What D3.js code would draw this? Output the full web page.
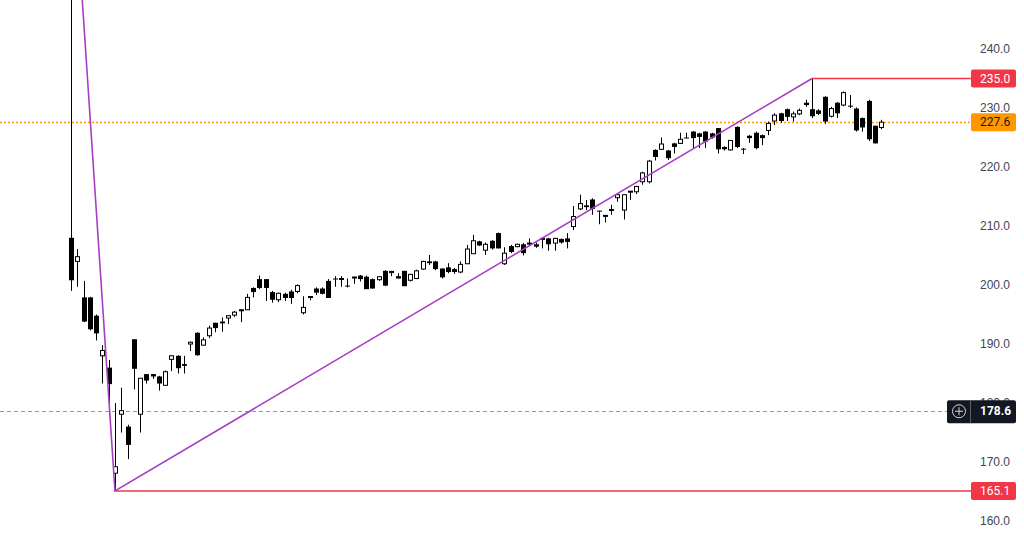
<!DOCTYPE html>
<html>
<head>
<meta charset="utf-8">
<script src="https://cdn.jsdelivr.net/npm/d3@7"></script>
<style>
  body { margin: 0; background: #ffffff; }
  svg { display: block; font-family: Roboto, "Noto Sans", sans-serif; }
</style>
</head>
<body>
<svg id="chart"></svg>
<script>
// daily candles
var opens = [208.0,204.0,197.9,197.9,194.8,188.0,186.0,168.1,178.1,176.0,
  190.8,178.1,184.9,184.9,184.5,183.0,187.4,188.0,186.6,190.0,
  191.9,189.8,191.4,193.6,193.8,194.4,194.9,195.75,195.8,199.5,
  201.0,201.0,198.8,197.5,198.5,198.9,198.9,195.3,198.0,199.4,
  199.4,200.7,201.1,201.0,199.9,201.3,201.6,201.4,201.0,200.9,
  202.4,202.1,201.5,202.4,200.8,201.1,202.7,204.0,204.0,202.8,
  203.0,202.7,202.2,203.6,205.3,207.4,205.9,207.5,208.8,203.6,
  206.6,206.5,206.9,207.0,206.9,207.85,207.9,207.1,207.8,207.9,
  209.9,212.9,213.5,214.5,212.6,211.8,212.7,214.8,212.7,215.85,
  215.8,217.5,217.5,222.9,223.0,222.8,224.0,224.0,225.0,226.0,
  225.7,226.0,225.7,226.6,223.4,222.9,226.8,223.1,225.3,225.8,
  225.4,226.2,227.8,229.1,229.8,228.5,229.0,230.9,229.8,229.6,
  231.9,228.6,230.9,230.5,230.4,229.9,228.3,231.2,227.0,226.7];
var highs = [277.0,206.1,200.7,198.0,195.0,189.8,187.3,180.0,182.6,176.3,
  190.8,184.2,184.9,184.9,184.6,185.5,188.1,188.1,188.0,190.4,
  192.0,191.1,193.1,193.6,194.5,194.9,195.6,195.9,198.5,199.6,
  201.6,201.0,199.0,198.7,198.7,199.2,200.1,198.1,198.1,199.6,
  199.6,201.0,201.5,201.5,201.1,201.4,201.7,201.6,201.1,201.5,
  202.5,202.4,202.0,202.4,201.9,202.6,204.1,205.1,204.1,202.8,
  203.7,202.9,204.0,206.8,208.5,207.5,207.2,207.6,208.9,206.4,
  206.8,207.0,207.1,207.9,207.2,207.9,208.0,208.0,207.9,208.8,
  213.4,215.3,214.4,214.7,212.6,211.85,213.6,215.4,215.3,215.9,
  216.8,219.2,221.2,223.0,225.0,222.9,224.1,225.8,225.8,226.1,
  225.8,226.1,225.8,226.6,223.5,224.6,226.9,223.2,225.4,226.0,
  225.5,227.7,229.1,229.2,229.9,229.4,229.9,231.4,235.0,229.8,
  232.0,230.2,231.0,232.8,232.2,230.1,228.4,231.4,227.0,228.0];
var lows = [199.0,199.7,193.7,192.3,190.6,183.3,179.2,165.1,175.0,170.5,
  182.3,175.0,183.3,184.1,182.1,182.9,185.4,185.0,185.0,188.8,
  188.0,189.8,191.0,192.0,192.1,193.4,194.6,193.7,195.8,197.9,
  199.3,197.3,197.0,197.1,197.3,196.8,198.6,195.0,197.4,198.3,
  198.4,197.8,199.7,199.7,199.6,200.2,200.6,199.3,199.4,200.7,
  199.8,201.5,201.1,199.8,200.6,201.0,202.6,203.4,202.5,201.1,
  202.0,201.9,202.0,203.6,205.3,206.6,205.1,206.0,206.2,203.4,
  205.4,206.4,205.0,206.6,206.3,206.2,205.8,205.8,207.0,206.2,
  209.3,212.7,212.7,211.9,210.3,210.6,211.9,214.1,211.1,214.4,
  215.4,217.0,217.2,221.1,222.9,221.2,222.3,223.9,224.9,223.2,
  223.2,223.2,224.8,222.3,222.8,222.8,223.2,222.2,224.1,223.0,
  223.7,225.4,227.1,227.5,227.8,227.7,228.8,230.2,228.3,228.8,
  227.3,228.4,228.3,230.3,230.0,226.0,226.0,224.4,224.0,226.4];
var closes = [200.8,204.8,193.8,192.5,191.8,188.9,183.2,169.2,178.7,172.9,
  185.8,184.2,183.8,184.5,183.3,185.3,188.0,185.9,186.3,190.3,
  188.1,190.7,192.7,192.7,193.5,194.8,195.4,195.8,197.9,198.8,
  199.5,199.5,197.5,198.6,197.8,197.8,199.9,196.2,198.05,198.7,
  198.5,197.8,201.0,201.1,199.8,201.35,201.0,199.3,199.4,201.4,
  199.9,202.3,201.1,199.8,201.8,202.4,204.0,203.7,202.7,201.3,
  202.2,202.2,203.5,206.1,207.5,206.7,206.9,206.2,206.2,205.4,
  205.6,206.9,205.4,207.1,206.5,207.9,206.9,207.9,207.2,207.3,
  211.6,213.8,213.2,212.9,212.55,211.8,212.8,215.3,215.3,215.9,
  216.7,219.0,221.0,221.7,223.9,221.5,223.4,224.7,224.95,224.9,
  225.1,224.3,225.0,223.0,223.0,224.5,223.4,223.05,224.9,223.2,
  224.9,227.4,228.8,227.8,228.5,229.0,229.6,230.5,228.6,229.0,
  227.7,229.9,229.1,232.6,230.3,226.2,226.7,224.7,224.0,227.6];

// zigzag drawing (candle index, price) and its level lines
var zigIdx = [0, 7, 118];
var zigPrice = [277.0, 165.1, 235.0];
var levelIdx = [7, 118];
var levelPrice = [165.1, 235.0];

var lastPrice = 227.6;
var crossPrice = 178.6;
var yTicks = [160, 170, 180, 190, 200, 210, 220, 230, 240];

var width = 1024, height = 551;
var svg = d3.select("#chart").attr("width", width).attr("height", height);

//--------------------scales---------------
var x = d3.scaleLinear().domain([0, 129]).range([71, 881.1]);
var y = d3.scaleLinear().domain([160, 240]).range([521, 49]);
var fmt = d3.format(".1f");
var plotRight = 971;

//--------------------price axis (right)---------------
var axis = svg.append("g")
    .attr("transform", "translate(980,0)")
    .call(d3.axisRight(y).tickValues(yTicks).tickSize(0).tickPadding(0).tickFormat(fmt));
axis.select(".domain").remove();
axis.selectAll("text")
    .style("font-size", "12px")
    .style("fill", "#434651");

//--------------------horizontal lines---------------
svg.append("line")
    .attr("x1", 0).attr("x2", 947)
    .attr("y1", Math.round(y(crossPrice)) + 0.5).attr("y2", Math.round(y(crossPrice)) + 0.5)
    .style("stroke", "#9598a1")
    .style("stroke-width", 1)
    .style("stroke-dasharray", "4,3");

svg.append("line")
    .attr("x1", 0).attr("x2", plotRight)
    .attr("y1", Math.round(y(lastPrice)) + 0.5).attr("y2", Math.round(y(lastPrice)) + 0.5)
    .style("stroke", "#ff9800")
    .style("stroke-width", 1.5)
    .style("stroke-dasharray", "2,2");

//--------------------candles---------------
var candles = d3.range(opens.length).map(function(i) {
  return {i: i, o: opens[i], h: highs[i], l: lows[i], c: closes[i]};
});

var g = svg.append("g");
g.selectAll("line.wick")
    .data(candles)
    .enter().append("line")
    .attr("class", "wick")
    .attr("x1", function(d) { return Math.round(x(d.i)) + 0.5; })
    .attr("x2", function(d) { return Math.round(x(d.i)) + 0.5; })
    .attr("y1", function(d) { return y(d.h); })
    .attr("y2", function(d) { return y(d.l); })
    .style("stroke", "#000")
    .style("stroke-width", 1);

g.selectAll("rect.body")
    .data(candles)
    .enter().append("rect")
    .attr("class", "body")
    .attr("x", function(d) { return d.c >= d.o ? Math.round(x(d.i)) - 1.5 : Math.round(x(d.i)) - 2; })
    .attr("width", function(d) { return d.c >= d.o ? 4 : 5; })
    .attr("y", function(d) { return y(Math.max(d.o, d.c)); })
    .attr("height", function(d) { return Math.max(1, Math.abs(y(d.o) - y(d.c))); })
    .style("fill", function(d) { return d.c >= d.o ? "#fff" : "#000"; })
    .style("stroke", function(d) { return d.c >= d.o ? "#000" : "none"; })
    .style("stroke-width", 1);

//--------------------zigzag + levels---------------
svg.selectAll("line.level")
    .data(levelIdx)
    .enter().append("line")
    .attr("class", "level")
    .attr("x1", function(d) { return x(d); })
    .attr("x2", plotRight)
    .attr("y1", function(d, i) { return y(levelPrice[i]); })
    .attr("y2", function(d, i) { return y(levelPrice[i]); })
    .style("stroke", "#f23645")
    .style("stroke-width", 1.5);

svg.append("path")
    .datum(zigIdx)
    .attr("d", d3.line()
      .x(function(d) { return x(d); })
      .y(function(d, i) { return y(zigPrice[i]); }))
    .style("fill", "none")
    .style("stroke", "#a83ec6")
    .style("stroke-width", 1.6);

//--------------------price labels---------------
function priceTag(v, bg, fg) {
  var cy = y(v);
  svg.append("rect")
      .attr("x", plotRight).attr("y", cy - 9)
      .attr("width", 45).attr("height", 18)
      .attr("rx", 2)
      .style("fill", bg);
  svg.append("text")
      .attr("x", 980).attr("y", cy)
      .attr("dy", "0.35em")
      .style("font-size", "12px")
      .style("fill", fg)
      .text(fmt(v));
}
levelPrice.forEach(function(v) { priceTag(v, "#f23645", "#ffffff"); });
priceTag(lastPrice, "#ff9800", "#131722");

// crosshair label with the plus button
var cy = y(crossPrice);
svg.append("rect")
    .attr("x", 947).attr("y", cy - 11)
    .attr("width", 69).attr("height", 23)
    .attr("rx", 2)
    .style("fill", "#131722");
svg.append("line")
    .attr("x1", 970.5).attr("x2", 970.5)
    .attr("y1", cy - 11).attr("y2", cy + 12)
    .style("stroke", "#5d606b");
svg.append("circle")
    .attr("cx", 959).attr("cy", cy)
    .attr("r", 6.5)
    .style("fill", "none")
    .style("stroke", "#d1d4dc")
    .style("stroke-width", 1);
svg.append("path")
    .attr("d", "M955," + cy + "H963M959," + (cy - 4) + "V" + (cy + 4))
    .style("stroke", "#d1d4dc")
    .style("stroke-width", 1);
svg.append("text")
    .attr("x", 980).attr("y", cy)
    .attr("dy", "0.35em")
    .style("font-size", "12px")
    .style("font-weight", "bold")
    .style("fill", "#ffffff")
    .text(fmt(crossPrice));
</script>
</body>
</html>
